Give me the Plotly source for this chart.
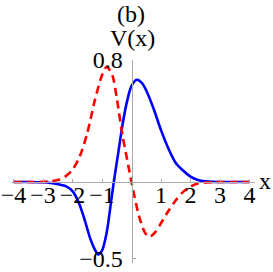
import plotly.graph_objects as go

# Blue (solid) curve samples
x_blue = [-4.0, -3.5, -3.0, -2.75, -2.5, -2.2, -2.0, -1.8, -1.6, -1.4, -1.25, -1.13, -1.0,
          -0.84, -0.7, -0.6, -0.45, -0.3, -0.15, 0.0, 0.18, 0.35, 0.5, 0.75, 1.0, 1.25,
          1.5, 1.75, 2.0, 2.25, 2.5, 2.75, 3.0, 3.5, 4.0]
y_blue = [0.0, 0.0, -0.002, -0.006, -0.014, -0.03, -0.06, -0.13, -0.24, -0.37, -0.44, -0.475, -0.45,
          -0.33, -0.14, 0.0, 0.19, 0.38, 0.53, 0.63, 0.67, 0.65, 0.6, 0.48, 0.34, 0.22,
          0.125, 0.075, 0.035, 0.013, 0.004, 0.001, 0.0, 0.0, 0.0]

# Red (dashed) curve samples
x_red = [-4.0, -3.5, -3.0, -2.75, -2.5, -2.25, -2.0, -1.75, -1.5, -1.25, -1.0, -0.84, -0.65,
         -0.5, -0.3, -0.15, 0.0, 0.25, 0.45, 0.6, 0.8, 1.0, 1.25, 1.5, 1.75, 2.0, 2.25,
         2.5, 2.75, 3.0, 3.5, 4.0]
y_red = [0.0, 0.0, 0.001, 0.004, 0.013, 0.035, 0.08, 0.17, 0.32, 0.53, 0.7, 0.755, 0.7,
         0.55, 0.3, 0.15, 0.0, -0.22, -0.33, -0.36, -0.33, -0.27, -0.19, -0.12, -0.065, -0.03, -0.01,
         -0.003, -0.001, 0.0, 0.0, 0.0]

x_tickvals = [-4, -3, -2, -1, 1, 2, 3, 4]
x_ticktext = ["\u22124", "\u22123", "\u22122", "\u22121", "1", "2", "3", "4"]
y_tickvals = [-0.5, 0.8]
y_ticktext = ["\u22120.5", "0.8"]

W, H = 273, 272
FONT = "Liberation Serif"
FS = 24

fig = go.Figure()
fig.add_trace(go.Scatter(x=x_blue, y=y_blue, mode="lines",
                         line=dict(color="#0000FF", width=2.6, shape="spline", smoothing=0.8),
                         showlegend=False))
fig.add_trace(go.Scatter(x=x_red, y=y_red, mode="lines",
                         line=dict(color="#FF0000", width=2.6, dash="8px,5px", shape="spline", smoothing=0.8),
                         showlegend=False))

# pixel geometry
x0_px, sx = 131.5, 29.5      # x = 0 at 131.5 px, 29.5 px per unit
y0_px, sy = 182.0, 152.5     # y = 0 at 182 px, 152.5 px per unit
xl_px, xr_px = 12.0, 255.0
yt_px, yb_px = 60.0, 263.0

xr = [(xl_px - x0_px) / sx, (xr_px - x0_px) / sx]
yr = [(y0_px - yb_px) / sy, (y0_px - yt_px) / sy]

fig.update_layout(
    width=W, height=H,
    margin=dict(l=0, r=0, t=0, b=0, pad=0, autoexpand=False),
    paper_bgcolor="white", plot_bgcolor="white",
    font=dict(family=FONT, size=FS, color="black"),
    xaxis=dict(domain=[xl_px / W, xr_px / W], range=xr, anchor="free",
               position=(H - y0_px) / H, automargin=False,
               showgrid=False, zeroline=False, showline=True, linecolor="#AAAAAA", linewidth=1,
               tickmode="array", tickvals=x_tickvals, ticktext=x_ticktext,
               ticks="inside", ticklen=3, tickcolor="#AAAAAA", ticklabelstandoff=-9,
               tickfont=dict(family=FONT, size=FS, color="black")),
    yaxis=dict(domain=[(H - yb_px) / H, (H - yt_px) / H], range=yr, anchor="free",
               position=x0_px / W, automargin=False,
               showgrid=False, zeroline=False, showline=True, linecolor="#AAAAAA", linewidth=1,
               tickmode="array", tickvals=y_tickvals, ticktext=y_ticktext,
               ticks="inside", ticklen=3, tickcolor="#AAAAAA", ticklabelstandoff=4,
               tickfont=dict(family=FONT, size=FS, color="black")),
    annotations=[
        dict(text="(b)", x=131 / W, y=1 - 14 / H, xref="paper", yref="paper",
             showarrow=False, font=dict(family=FONT, size=FS), xanchor="center", yanchor="middle"),
        dict(text="V(x)", x=132 / W, y=1 - 38 / H, xref="paper", yref="paper",
             showarrow=False, font=dict(family=FONT, size=FS), xanchor="center", yanchor="middle"),
        dict(text="x", x=265 / W, y=1 - 181 / H, xref="paper", yref="paper",
             showarrow=False, font=dict(family=FONT, size=FS), xanchor="center", yanchor="middle"),
    ],
)

fig.write_html("out.html", config={"displayModeBar": False},
               post_script="document.body.style.margin='0';document.body.style.overflow='hidden';")
